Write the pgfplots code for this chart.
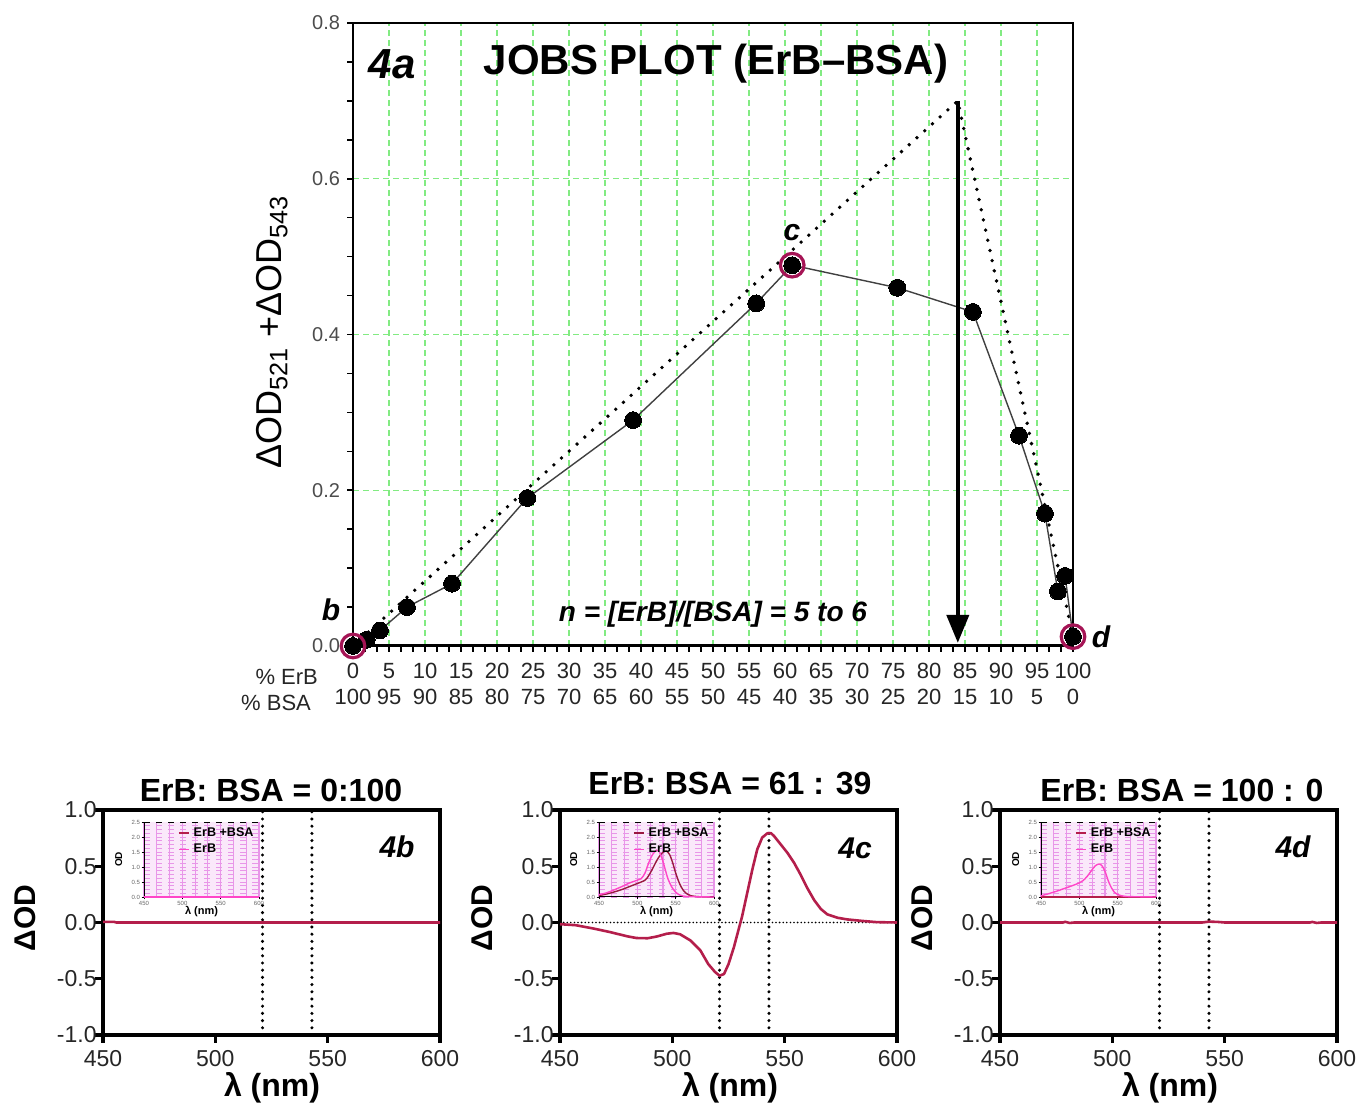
\documentclass[border=0pt]{standalone}
\usepackage{fontspec}
\setmainfont{Liberation Sans}
\usepackage{pgfplots}
\pgfplotsset{compat=1.18}
\usetikzlibrary{arrows.meta}
\definecolor{ringred}{RGB}{165,20,85}
\definecolor{curvered}{RGB}{180,30,75}
\definecolor{gridgreen}{RGB}{130,235,130}
\definecolor{erbpink}{RGB}{255,70,200}
\definecolor{insetbg}{RGB}{250,232,250}
\definecolor{insetgrid}{RGB}{232,150,232}

\pgfplotsset{
 bottomplot/.style={
   anchor=south west,
   scale only axis, width=168.5pt, height=112.5pt,
   xmin=450, xmax=600, ymin=-1, ymax=1,
   xtick={450,500,550,600}, ytick={-1,-0.5,0,0.5,1},
   tick pos=left, tick align=outside,
   major tick length=4pt,
   major tick style={black, line width=1.6pt},
   axis line style={line width=2.2pt},
   /pgf/number format/assume math mode=true,
   tick label style={font=\fontsize{11.5}{12}\selectfont, text=black!85},
   yticklabel style={/pgf/number format/fixed,/pgf/number format/fixed zerofill,/pgf/number format/precision=1, inner sep=0.5pt, xshift=1.5pt},
   clip=false,
 },
 vdot/.style={black, line width=1.7pt, dash pattern=on 0pt off 3.6pt, line cap=round},
 insetplot/.style={
   anchor=south west,
   scale only axis, width=57.5pt, height=37.5pt,
   xmin=450, xmax=600, ymin=0, ymax=2.5,
   xtick={450,500,550,600}, ytick={0,0.5,1,1.5,2,2.5},
   minor x tick num=2, minor y tick num=3,
   axis lines=left, axis line style={-, line width=0.5pt},
   tick align=outside, major tick length=1.2pt, minor tick length=0pt,
   major tick style={black, line width=0.4pt},
   /pgf/number format/assume math mode=true,
   tick label style={font=\fontsize{3}{3}\selectfont, text=black!60, inner sep=0.6pt},
   yticklabel style={/pgf/number format/fixed,/pgf/number format/fixed zerofill,/pgf/number format/precision=1},
   axis background/.style={fill=insetbg},
   xmajorgrids, xminorgrids, ymajorgrids, yminorgrids,
   x grid style={insetgrid, line width=0.6pt},
   y grid style={insetgrid, dashed, line width=0.45pt},
   xlabel={λ (nm)}, ylabel={OD},
   xlabel style={at={(axis description cs:0.5,0)}, anchor=center, yshift=-7.5pt, font=\bfseries\fontsize{5.5}{5.5}\selectfont},
   ylabel style={at={(axis description cs:-0.22,0.5)}, anchor=center, font=\bfseries\fontsize{5}{5}\selectfont},
   legend cell align=left,
   legend style={at={(1,1)}, anchor=north east, draw=none, fill=none, font=\bfseries\fontsize{6.3}{6.3}\selectfont, inner sep=0.5pt, row sep=-1.8pt},
   legend image code/.code={\draw[#1, line width=0.8pt] (0pt,0pt) -- (5pt,0pt);},
   clip=false,
 },
}

\begin{document}
\begin{tikzpicture}
\useasboundingbox (0,0) rectangle (679pt,553pt);

% ---------------- Top: Job's plot ----------------
\begin{axis}[
 at={(176.5pt,230pt)}, anchor=south west,
 scale only axis, width=360pt, height=311.5pt,
 xmin=0, xmax=100, ymin=0, ymax=0.8,
 axis lines=left, axis line style={-},
 x axis line style={line width=1.5pt},
 y axis line style={line width=1pt},
 xtick={0,5,...,100},
 xticklabels={{0\\100},{5\\95},{10\\90},{15\\85},{20\\80},{25\\75},{30\\70},{35\\65},{40\\60},{45\\55},{50\\50},{55\\45},{60\\40},{65\\35},{70\\30},{75\\25},{80\\20},{85\\15},{90\\10},{95\\5},{100\\0}},
 minor x tick num=2,
 ytick={0,0.2,0.4,0.6,0.8}, minor y tick num=3,
 tick align=outside, major tick length=3pt, minor tick length=3pt,
 tick style={black, line width=0.8pt},
 xmajorgrids, ymajorgrids,
 grid style={gridgreen, dash pattern=on 3pt off 2pt, line width=0.6pt},
 /pgf/number format/assume math mode=true,
 yticklabel style={/pgf/number format/fixed,/pgf/number format/fixed zerofill,/pgf/number format/precision=1, font=\fontsize{10}{10}\selectfont, text=black!70},
 xticklabel style={align=center, font=\fontsize{11}{13}\selectfont, text=black!85, yshift=-2pt},
 clip=false,
]
\draw[line width=0.8pt] (rel axis cs:0,1) -- (rel axis cs:1,1) -- (rel axis cs:1,0);
\addplot[dash pattern=on 0pt off 5.2pt, line width=1.9pt, line cap=round] coordinates {(0,0) (84,0.70) (100,0.012)};
\addplot[black!75, line width=0.7pt, mark=*, mark size=4.2pt, mark options={fill=black, draw=black, line width=0pt}] coordinates {
 (0,0.000) (1.9,0.008) (3.75,0.02) (7.5,0.05) (13.75,0.08) (24.2,0.19) (38.9,0.29) (56,0.44)
 (61,0.489) (75.6,0.46) (86.1,0.429) (92.5,0.27) (96.1,0.17) (97.9,0.07) (98.9,0.09) (100,0.012)};
\addplot[only marks, mark=o, mark size=5.9pt, mark options={draw=ringred, line width=1.6pt}] coordinates {(0,0) (61,0.489) (100,0.012)};
\addplot[line width=2pt, -{Triangle[length=14pt, width=11pt]}] coordinates {(84,0.70) (84,0.004)};
\end{axis}

\node[font=\bfseries\itshape\fontsize{21}{21}\selectfont] at (196pt,521pt) {4a};
\node[font=\bfseries\fontsize{21}{21}\selectfont] at (358pt,521pt) {JOBS PLOT (ErB–BSA)};
\node[font=\bfseries\itshape\fontsize{14}{14}\selectfont] at (356.5pt,246pt) {n = [ErB]/[BSA] = 5 to 6};
\node[font=\bfseries\itshape\fontsize{15}{15}\selectfont] at (165.5pt,248pt) {b};
\node[font=\bfseries\itshape\fontsize{15}{15}\selectfont] at (396pt,436.5pt) {c};
\node[font=\bfseries\itshape\fontsize{15}{15}\selectfont] at (550.5pt,234.5pt) {d};
\node[rotate=90, font=\fontsize{18}{18}\selectfont] at (136pt,387pt) {ΔOD\textsubscript{521} +ΔOD\textsubscript{543}};
\node[anchor=east, font=\fontsize{11}{11}\selectfont, text=black!85] at (162.5pt,214.5pt) {\% ErB};
\node[anchor=east, font=\fontsize{11}{11}\selectfont, text=black!85] at (159pt,201.5pt) {\% BSA};

% ---------------- 4b ----------------
\begin{axis}[bottomplot, at={(51.5pt,35.5pt)}]
\addplot[vdot] coordinates {(521,-1) (521,1)};
\addplot[vdot] coordinates {(543,-1) (543,1)};
\addplot[curvered, line width=1.3pt] coordinates {(450,0.005) (455,0.005) (456,0) (600,0)};
\end{axis}
\begin{axis}[insetplot, at={(72pt,104.5pt)}]
\draw[dashed, line width=0.4pt] (rel axis cs:0,1) -- (rel axis cs:1,1);
\addplot[curvered, line width=0.7pt] coordinates {(450,0.01) (600,0.01)};
\addlegendentry{ErB +BSA}
\addplot[erbpink, line width=0.7pt] coordinates {(450,0) (600,0)};
\addlegendentry{ErB}
\end{axis}

% ---------------- 4c ----------------
\begin{axis}[bottomplot, at={(280pt,35.5pt)}]
\addplot[black, line width=0.9pt, dash pattern=on 0pt off 1.8pt, line cap=round] coordinates {(450,0) (600,0)};
\addplot[vdot] coordinates {(521,-1) (521,1)};
\addplot[vdot] coordinates {(543,-1) (543,1)};
\addplot[curvered, line width=1.3pt, line join=round] coordinates {
 (450,-0.015) (457,-0.024) (465,-0.054) (472,-0.084) (480,-0.123) (484,-0.138) (489,-0.14) (493,-0.125)
 (497.5,-0.10) (500.5,-0.093) (503.5,-0.105) (508,-0.159) (512.5,-0.249) (516,-0.37) (519,-0.44) (521,-0.473)
 (523,-0.458) (525,-0.37) (527.4,-0.22) (529.6,-0.054) (531,0.05) (533.3,0.26) (535.6,0.47) (537.8,0.65)
 (540,0.755) (542.3,0.793) (543.8,0.795) (545.2,0.77) (548.2,0.695) (551.2,0.62) (554.2,0.53) (557.1,0.425)
 (560.1,0.305) (563.1,0.20) (566.1,0.12) (569,0.072) (573.5,0.042) (578,0.027) (584,0.015) (591,0.003) (600,0.0)};
\end{axis}
\begin{axis}[insetplot, at={(299.5pt,104.5pt)}]
\draw[dashed, line width=0.4pt] (rel axis cs:0,1) -- (rel axis cs:1,1);
\addplot[curvered!85!black, line width=0.7pt, smooth] coordinates {
 (450,0.05) (460,0.1) (470,0.17) (480,0.25) (490,0.35) (500,0.45) (510,0.56) (515,0.72) (520,0.95) (525,1.2)
 (530,1.4) (535,1.52) (538,1.53) (542,1.42) (546,1.15) (550,0.8) (555,0.45) (560,0.22) (565,0.1) (570,0.04)
 (580,0.01) (600,0)};
\addlegendentry{ErB +BSA}
\addplot[erbpink, line width=0.7pt, smooth] coordinates {
 (450,0.08) (460,0.14) (470,0.24) (480,0.35) (490,0.47) (500,0.56) (505,0.61) (510,0.8) (515,1.15) (520,1.42)
 (525,1.56) (528,1.53) (532,1.3) (536,0.95) (540,0.6) (545,0.33) (550,0.16) (555,0.07) (560,0.03) (570,0.01) (600,0)};
\addlegendentry{ErB}
\end{axis}

% ---------------- 4d ----------------
\begin{axis}[bottomplot, at={(500pt,35.5pt)}]
\addplot[vdot] coordinates {(521,-1) (521,1)};
\addplot[vdot] coordinates {(543,-1) (543,1)};
\addplot[curvered, line width=1.3pt] coordinates {(450,0) (478,0) (479,0.006) (481,-0.004) (483,0) (540,0) (543,0.008) (547,0.005) (550,0) (588,0) (589,0.005) (591,-0.004) (593,0) (600,0)};
\end{axis}
\begin{axis}[insetplot, at={(520.5pt,104.5pt)}]
\draw[dashed, line width=0.4pt] (rel axis cs:0,1) -- (rel axis cs:1,1);
\addplot[curvered, line width=0.7pt] coordinates {(450,0) (600,0)};
\addlegendentry{ErB +BSA}
\addplot[erbpink, line width=0.7pt, smooth] coordinates {
 (450,0.04) (460,0.11) (470,0.19) (480,0.28) (490,0.37) (500,0.47) (505,0.55) (510,0.68) (515,0.85) (520,1.02)
 (524,1.09) (527,1.10) (530,1.03) (534,0.82) (538,0.52) (542,0.3) (546,0.15) (550,0.08) (555,0.04) (560,0.02) (570,0.01) (600,0)};
\addlegendentry{ErB}
\end{axis}

% bottom titles and labels
\node[font=\bfseries\fontsize{16}{16}\selectfont] at (135.5pt,158pt) {ErB: BSA = 0:100};
\node[font=\bfseries\fontsize{16}{16}\selectfont] at (365pt,161pt) {ErB: BSA = 61 : 39};
\node[font=\bfseries\fontsize{16}{16}\selectfont] at (591pt,158pt) {ErB: BSA = 100 : 0};
\foreach \xx in {12.5pt,241pt,461pt}{
  \node[rotate=90, font=\bfseries\fontsize{15}{15}\selectfont] at (\xx,94pt) {ΔOD};
}
\node[font=\bfseries\fontsize{16}{16}\selectfont] at (136pt,9pt) {λ (nm)};
\node[font=\bfseries\fontsize{16}{16}\selectfont] at (365pt,9pt) {λ (nm)};
\node[font=\bfseries\fontsize{16}{16}\selectfont] at (585pt,9pt) {λ (nm)};
\node[font=\bfseries\itshape\fontsize{15}{15}\selectfont] at (198.5pt,129.5pt) {4b};
\node[font=\bfseries\itshape\fontsize{15}{15}\selectfont] at (427.5pt,129pt) {4c};
\node[font=\bfseries\itshape\fontsize{15}{15}\selectfont] at (646.5pt,129.5pt) {4d};
\end{tikzpicture}
\end{document}
